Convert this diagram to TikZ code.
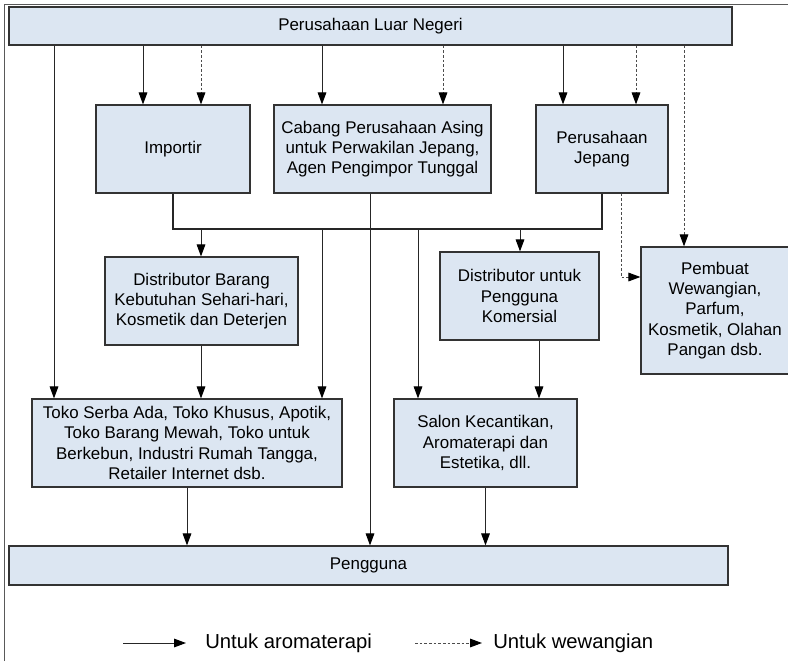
\documentclass[tikz,border=0pt]{standalone}
\usepackage{fontspec}
\setmainfont{Liberation Sans}
\usetikzlibrary{arrows.meta}
\definecolor{boxfill}{HTML}{DCE6F2}
\definecolor{boxline}{HTML}{333333}

\begin{document}
\begin{tikzpicture}[x=0.75pt,y=-0.75pt,
  wh/.style 2 args={minimum width=#1*0.75pt,minimum height=#2*0.75pt},
  box/.style={draw=boxline,fill=boxfill,line width=0.9pt,align=center,inner sep=0pt,
    font=\fontsize{12.7}{15.2}\selectfont},
  arr/.style={-{Triangle[length=9pt,width=6.5pt,color=black]},line width=0.75pt,draw=black!85},
  warr/.style={arr,dash pattern=on 2pt off 1.5pt,draw=black!70},
  legtext/.style={anchor=west,inner sep=0pt,font=\fontsize{15.2}{18}\selectfont}]
\useasboundingbox (0,0) rectangle (788,661);
\clip (0,0) rectangle (788,661);
% frame
\draw[line width=1.1pt,black!65] (4.5,661) -- (4.5,4.5) -- (788,4.5);

% boxes
\node[box,wh={723}{38}] (luar) at (370.5,26) {Perusahaan Luar Negeri};
\node[box,wh={154}{88}] (imp) at (173,149) {Importir};
\node[box,wh={217}{88}] (cab) at (382.5,149) {Cabang Perusahaan Asing\\untuk Perwakilan Jepang,\\Agen Pengimpor Tunggal};
\node[box,wh={132}{88}] (jep) at (602,149) {Perusahaan\\Jepang};
\node[box,wh={193}{88}] (distb) at (201.5,301) {Distributor Barang\\Kebutuhan Sehari-hari,\\Kosmetik dan Deterjen};
\node[box,wh={159}{88}] (distk) at (519.5,296) {Distributor untuk\\Pengguna\\Komersial};
\node[box,wh={148}{127}] (pemb) at (715,310.5) {Pembuat\\Wewangian,\\Parfum,\\Kosmetik, Olahan\\Pangan dsb.};
\node[box,wh={310}{88}] (toko) at (187,443) {Toko Serba Ada, Toko Khusus, Apotik,\\Toko Barang Mewah, Toko untuk\\Berkebun, Industri Rumah Tangga,\\Retailer Internet dsb.};
\node[box,wh={183}{88}] (salon) at (485.5,443) {Salon Kecantikan,\\Aromaterapi dan\\Estetika, dll.};
\node[box,wh={719}{39}] (peng) at (368.5,565.5) {Pengguna};

% from the foreign company
\foreach \x/\t in {54/toko,143/imp,322/cab,563/jep}
  \draw[arr] (luar.south -| \x,0) -- (\t.north -| \x,0);
\foreach \x/\t in {201/imp,443/cab,636/jep,684/pemb}
  \draw[warr] (luar.south -| \x,0) -- (\t.north -| \x,0);

% collecting line below the importers
\coordinate (busL) at (173,229);
\coordinate (busR) at (602,229);
\draw[line width=1.1pt,black!85] (imp.south) -- (busL) -- (busR) -- (jep.south);
\foreach \x/\t in {201/distb,322/toko,418/salon,520/distk}
  \draw[arr] (busL -| \x,0) -- (\t.north -| \x,0);
\draw[arr] (cab.south -| 370,0) -- (peng.north -| 370,0);
\coordinate (bend) at (621,277);
\draw[warr] (jep.south -| bend) -- (bend) -- (pemb.west |- bend);

% lower levels
\draw[arr] (distb.south -| 201,0) -- (toko.north -| 201,0);
\draw[arr] (distk.south -| 539,0) -- (salon.north -| 539,0);
\draw[arr] (toko.south) -- (peng.north -| toko.south);
\draw[arr] (salon.south) -- (peng.north -| salon.south);

% legend
\coordinate (la) at (123,643);
\coordinate (lb) at (186,643);
\draw[arr] (la) -- (lb);
\node[legtext] (laro) at (205,643) {Untuk aromaterapi};
\coordinate (lc) at (415,643);
\coordinate (ld) at (482,643);
\draw[warr] (lc) -- (ld);
\node[legtext] (lwew) at (493,643) {Untuk wewangian};
\end{tikzpicture}
\end{document}
